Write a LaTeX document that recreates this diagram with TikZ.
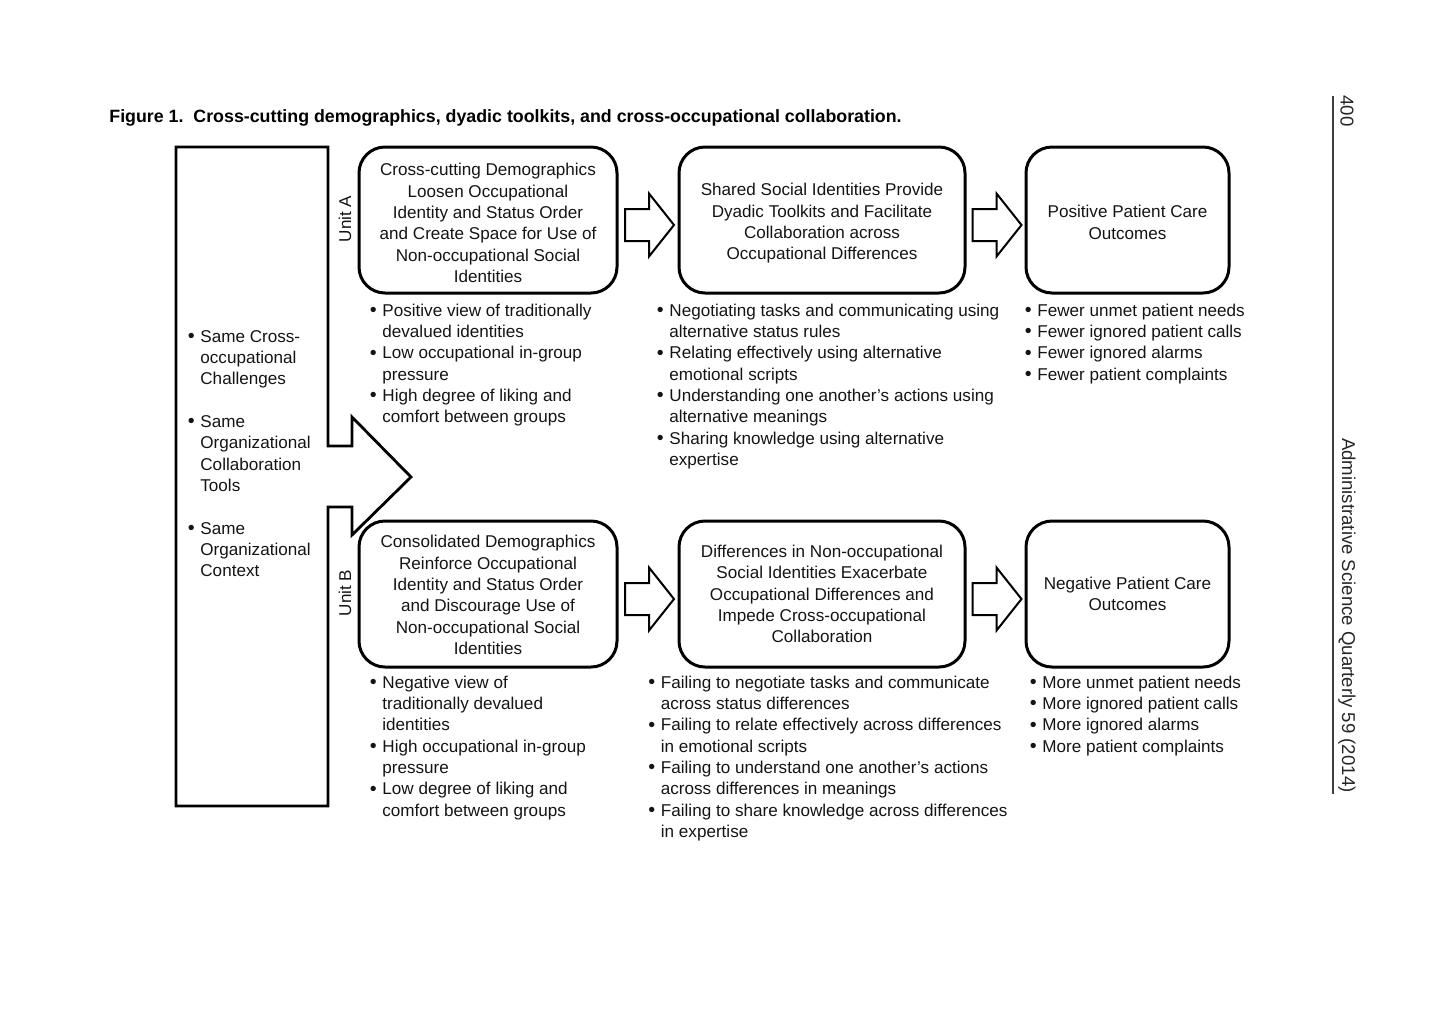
\documentclass[tikz,border=0pt]{standalone}
\usepackage{fontspec}
\setmainfont{Liberation Sans}
\usetikzlibrary{calc}
% bullet and hanging indent for the item lists
\newcommand\bulmark{\makebox[5.35pt][l]{\hspace*{-0.9pt}\raisebox{-0.15pt}{\scalebox{1.15}{•}}}}
\newcommand\bulgap{\hspace*{5.35pt}}
\begin{document}
\begin{tikzpicture}[x=0.5pt,y=-0.5pt,
  body/.style={font=\fontsize{8.55pt}{10.65pt}\selectfont, text=black!92, inner sep=0pt},
  stage/.style={draw, line width=1.5pt, rounded corners=13pt, inner sep=0pt,
    minimum height=73pt},
  stagetext/.style={body, align=center},
  bullets/.style={body, align=left, anchor=north west},
  unitlabel/.style={body, rotate=90},
  sidetext/.style={font=\fontsize{9.3pt}{11pt}\selectfont, text=black!85, inner sep=0pt, rotate=-90},
  blockarrow/.pic={\draw[line width=1pt, line join=miter]
    (-24.5,-16) -- (-0.5,-16) -- (-0.5,-31.5) -- (24.5,0) -- (-0.5,31.5)
    -- (-0.5,16) -- (-24.5,16) -- cycle;}
]
\useasboundingbox (0,0) rectangle (1440,1008);

% title
\node[font=\bfseries\fontsize{8.9pt}{11pt}\selectfont, anchor=base west, inner sep=0pt]
  (title) at (109,122) {Figure 1.\ \ Cross-cutting demographics, dyadic toolkits, and cross-occupational collaboration.};

% common conditions: bar with the wide arrow into both units
\draw[line width=1.4pt, line join=miter]
  (176,147) -- (328,147) -- (328,446) -- (352,446) -- (352,417) -- (411,477)
  -- (352,535) -- (352,507) -- (328,507) -- (328,806) -- (176,806) -- cycle;
\node[bullets] (common) at (189.3,327) {\strut\bulmark Same Cross-\\
  \bulgap occupational\\ \bulgap Challenges\\ ~\\
  \bulmark Same\\ \bulgap Organizational\\ \bulgap Collaboration\\ \bulgap Tools\\ ~\\
  \bulmark Same\\ \bulgap Organizational\\ \bulgap Context};

% unit labels
\node[unitlabel] (unitA) at (345,219) {Unit A};
\node[unitlabel] (unitB) at (345,593) {Unit B};

% Unit A stages
\node[stage, minimum width=129pt] (A1) at (488,220) {};
\node[stage, minimum width=143pt] (A2) at (822,220) {};
\node[stage, minimum width=101.5pt] (A3) at (1127.5,220) {};
\node[stagetext] (A1text) at ($(A1)+(0,3)$) {Cross-cutting Demographics\\Loosen Occupational\\Identity and Status Order\\and Create Space for Use of\\Non-occupational Social\\Identities};
\node[stagetext] (A2text) at ($(A2)+(0,3.5)$) {Shared Social Identities Provide\\Dyadic Toolkits and Facilitate\\Collaboration across\\Occupational Differences};
\node[stagetext] (A3text) at ($(A3)+(0,2.5)$) {Positive Patient Care\\Outcomes};

% Unit B stages
\node[stage, minimum width=129pt] (B1) at (488,594) {};
\node[stage, minimum width=143pt] (B2) at (822,594) {};
\node[stage, minimum width=101.5pt] (B3) at (1127.5,594) {};
\node[stagetext] (B1text) at ($(B1)+(0,1)$) {Consolidated Demographics\\Reinforce Occupational\\Identity and Status Order\\and Discourage Use of\\Non-occupational Social\\Identities};
\node[stagetext] (B2text) at (B2) {Differences in Non-occupational\\Social Identities Exacerbate\\Occupational Differences and\\Impede Cross-occupational\\Collaboration};
\node[stagetext] (B3text) at (B3) {Negative Patient Care\\Outcomes};

% block arrows between stages
\pic at ($(A1.east)!0.5!(A2.west)+(1.5,5)$) {blockarrow};
\pic at ($(A2.east)!0.5!(A3.west)+(1.5,5)$) {blockarrow};
\pic at ($(B1.east)!0.5!(B2.west)+(1.5,5)$) {blockarrow};
\pic at ($(B2.east)!0.5!(B3.west)+(1.5,5)$) {blockarrow};

% Unit A details
\node[bullets] (A1list) at (371.3,301) {\strut\bulmark Positive view of traditionally\\
  \bulgap devalued identities\\
  \bulmark Low occupational in-group\\ \bulgap pressure\\
  \bulmark High degree of liking and\\ \bulgap comfort between groups};
\node[bullets] (A2list) at (658.3,301) {\strut\bulmark Negotiating tasks and communicating using\\
  \bulgap alternative status rules\\
  \bulmark Relating effectively using alternative\\ \bulgap emotional scripts\\
  \bulmark Understanding one another’s actions using\\ \bulgap alternative meanings\\
  \bulmark Sharing knowledge using alternative\\ \bulgap expertise};
\node[bullets] (A3list) at (1026.3,301) {\strut\bulmark Fewer unmet patient needs\\
  \bulmark Fewer ignored patient calls\\
  \bulmark Fewer ignored alarms\\
  \bulmark Fewer patient complaints};

% Unit B details
\node[bullets] (B1list) at (371.3,673) {\strut\bulmark Negative view of\\
  \bulgap traditionally devalued\\ \bulgap identities\\
  \bulmark High occupational in-group\\ \bulgap pressure\\
  \bulmark Low degree of liking and\\ \bulgap comfort between groups};
\node[bullets] (B2list) at (649.8,673) {\strut\bulmark Failing to negotiate tasks and communicate\\
  \bulgap across status differences\\
  \bulmark Failing to relate effectively across differences\\ \bulgap in emotional scripts\\
  \bulmark Failing to understand one another’s actions\\ \bulgap across differences in meanings\\
  \bulmark Failing to share knowledge across differences\\ \bulgap in expertise};
\node[bullets] (B3list) at (1031.3,673) {\strut\bulmark More unmet patient needs\\
  \bulmark More ignored patient calls\\
  \bulmark More ignored alarms\\
  \bulmark More patient complaints};

% running head along the right margin
\draw[line width=0.6pt, black!75] (1333,96) -- (1333,794);
\node[sidetext, anchor=west] (page) at (1347,95) {400};
\node[sidetext, anchor=east] (journal) at (1347,793) {Administrative Science Quarterly 59 (2014)};
\end{tikzpicture}
\end{document}
